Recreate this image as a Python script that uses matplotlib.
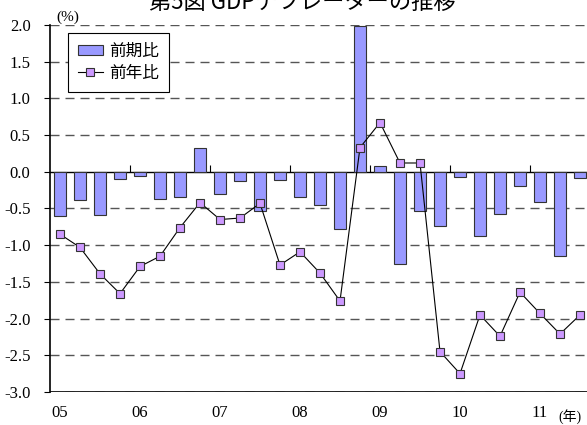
import numpy as np
import matplotlib.pyplot as plt

plt.rcParams['font.family'] = ['Liberation Serif', 'Noto Sans CJK JP']

# quarterly data, 2005 Q1 - 2011 Q3
QOQ = [-0.60, -0.38, -0.59, -0.10,
       -0.06, -0.37, -0.34, 0.32,
       -0.30, -0.13, -0.53, -0.11,
       -0.35, -0.45, -0.78, 1.98,
       0.08, -1.26, -0.54, -0.74,
       -0.07, -0.88, -0.58, -0.20,
       -0.41, -1.15, -0.08]
YOY = [-0.85, -1.03, -1.39, -1.66,
       -1.29, -1.15, -0.76, -0.42,
       -0.65, -0.63, -0.43, -1.27,
       -1.09, -1.38, -1.76, 0.33,
       0.67, 0.12, 0.12, -2.45,
       -2.75, -1.95, -2.24, -1.64,
       -1.93, -2.21, -1.95]
YEARS = ['05', '06', '07', '08', '09', '10', '11']
YTICKS = np.arange(-3.0, 2.01, 0.5)

x = np.arange(len(QOQ))

fig = plt.figure(figsize=(5.87, 4.25), dpi=100)
ax = fig.add_axes([50/587, 33/425, 540/587, 367/425])

bars = ax.bar(x, QOQ, width=0.6, color='#9999FF', edgecolor='#333333', linewidth=0.8,
              label='前期比', zorder=3)
line, = ax.plot(x, YOY, color='black', linewidth=0.8, marker='s', markersize=5.5,
                markerfacecolor='#CC99FF', markeredgecolor='#333333', markeredgewidth=0.8,
                label='前年比', zorder=4)

ax.set_xlim(-0.5, len(QOQ) - 0.5)
ax.set_ylim(-3.0, 2.0)

# horizontal dashed grid
for v in YTICKS:
    if v == 0:
        continue
    ax.axhline(v, color='#555555', linewidth=1.0, dashes=(6.5, 4.3), zorder=1)
ax.axhline(-3.0, color='black', linewidth=1.2, zorder=2)

ax.set_yticks(YTICKS)
ax.set_yticklabels(['%.1f' % v for v in YTICKS], fontsize=12)
ax.tick_params(axis='y', direction='out', length=4, width=0.8, pad=10)

# category axis sits on zero
ax.spines['bottom'].set_position(('data', 0))
ax.spines['bottom'].set_linewidth(1.0)
ax.spines['top'].set_visible(False)
ax.spines['right'].set_visible(False)
ax.spines['left'].set_linewidth(1.2)
ax.set_xticks(np.arange(3.5, len(QOQ), 4))
ax.set_xticklabels([])
ax.tick_params(axis='x', direction='in', length=5, width=0.8)

for i, yr in enumerate(YEARS):
    ax.text(i * 4, -3.29, yr, ha='center', va='center', fontsize=12)
ax.text(24.9, -3.33, '(年)', ha='left', va='center', fontsize=10,
        family=['Liberation Serif', 'Noto Sans CJK JP'])

ax.text(0.4, 2.02, '(%)', ha='center', va='bottom', fontsize=11)
fig.text(302/587, 1 - 2/425, '第5図 GDPデフレーターの推移', ha='center', va='center',
         fontsize=16, family=['Noto Sans CJK JP'])

leg = ax.legend([bars, line], ['前期比', '前年比'], loc='upper left',
                bbox_to_anchor=(0.0333, 0.978),
                frameon=True, fancybox=False, edgecolor='black', framealpha=1,
                borderpad=0.6, labelspacing=0.3, handlelength=1.5,
                handleheight=0.6, handletextpad=0.35, borderaxespad=0,
                prop={'family': ['Noto Sans CJK JP'], 'size': 12})
leg.get_frame().set_linewidth(0.8)

fig.savefig('out.png', dpi=100)
